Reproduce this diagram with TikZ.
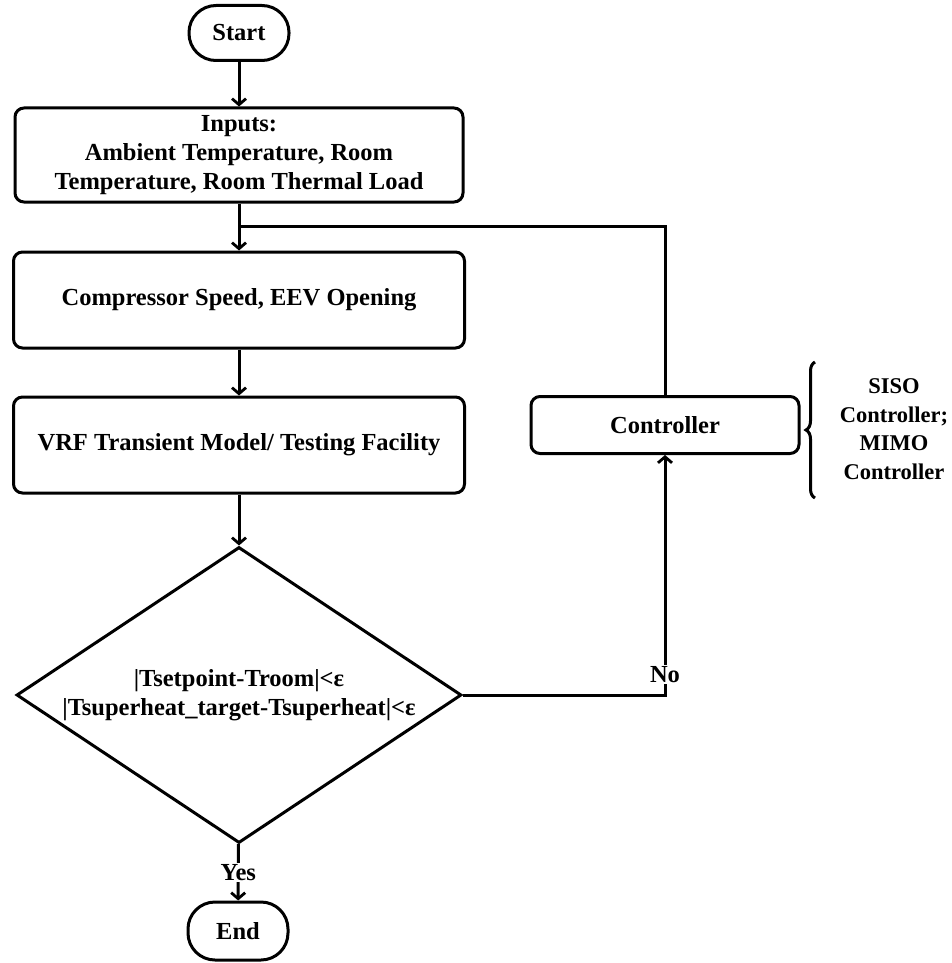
\documentclass[tikz,border=0pt]{standalone}
\usepackage{fontspec}
\setmainfont{Liberation Serif}
\usetikzlibrary{arrows.meta,shapes.geometric,decorations.pathreplacing}

\tikzset{
  base/.style={draw, line width=3pt, align=center, inner sep=0pt,
    font=\fontsize{24.5}{29}\selectfont\bfseries},
  terminal/.style={base, rectangle, rounded corners=27pt,
    minimum width=100pt, minimum height=55pt},
  procbox/.style={base, rectangle, rounded corners=9pt},
  decision/.style={base, diamond, aspect=1.5,
    minimum width=445pt, minimum height=296pt},
  flow/.style={line width=3pt,
    -{Straight Barb[length=6pt,width=14pt,line width=2.8pt]}},
  link/.style={line width=3pt},
  tag/.style={font=\fontsize{24.5}{29}\selectfont\bfseries, fill=white, inner sep=1.5pt}
}

\begin{document}
\begin{tikzpicture}[x=1pt,y=-1pt]
  \useasboundingbox (0,0) rectangle (952,963);

  % main column
  \node[terminal] (start) at (239,33) {Start};
  \node[procbox, minimum width=448pt, minimum height=94pt] (inputs) at (239,155)
    {Inputs:\\Ambient Temperature, Room\\Temperature, Room Thermal Load};
  \node[procbox, minimum width=451pt, minimum height=96pt] (comp) at (239,300)
    {Compressor Speed, EEV Opening};
  \node[procbox, minimum width=451pt, minimum height=96pt] (vrf) at (239,445)
    {VRF Transient Model/ Testing Facility};
  \node[decision] (check) at (239,695)
    {|Tsetpoint-Troom|<ε\\|Tsuperheat\_target-Tsuperheat|<ε};
  \node[terminal, minimum height=58pt] (stop) at (238,931) {End};

  % feedback branch
  \node[procbox, minimum width=268pt, minimum height=57pt] (ctrl) at (665,425)
    {Controller};
  \coordinate (join) at (239,226);

  \draw[flow] (start) -- (inputs);
  \draw[flow] (inputs) -- (comp);
  \draw[flow] (comp) -- (vrf);
  \draw[flow] (vrf) -- (check);
  \draw[flow] (check) -- node[tag, pos=0.5] {Yes} (stop);
  \draw[flow] (check.east) -| node[tag, pos=0.542] {No} (ctrl.south);
  \draw[link] (ctrl.north) |- (join);

  % controller options
  \draw[line width=3pt, decorate, decoration={brace, amplitude=9pt}]
    (815,498) -- (815,362);
  \node[font=\fontsize{22.5}{28.5}\selectfont\bfseries, align=center] (opts) at (894,429)
    {SISO\\Controller;\\MIMO\\Controller};
\end{tikzpicture}
\end{document}
